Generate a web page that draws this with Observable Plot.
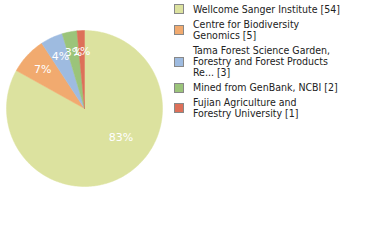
<!DOCTYPE html>
<html><head><meta charset="utf-8">
<script src="https://cdn.jsdelivr.net/npm/d3@7"></script>
<script src="https://cdn.jsdelivr.net/npm/@observablehq/plot@0.6"></script>
<style>
body{margin:0;background:#fff;}
#wrap{position:relative;width:380px;height:240px;overflow:hidden;}
#legend{position:absolute;left:174px;top:3.5px;font-family:"DejaVu Sans Condensed","DejaVu Sans",sans-serif;font-size:10.5px;color:#222;line-height:11.2px;}
.item{display:flex;align-items:center;margin-bottom:3.8px;}
.sw{width:8px;height:8px;border:1px solid #888;flex:none;margin-right:9px;}
</style></head>
<body><div id="wrap"><div id="chart"></div><div id="legend"></div></div>
<script>
const categories = ["Wellcome Sanger Institute","Centre for Biodiversity Genomics","Tama Forest Science Garden, Forestry and Forest Products Re...","Mined from GenBank, NCBI","Fujian Agriculture and Forestry University"];
const legendLines = [["Wellcome Sanger Institute [54]"],["Centre for Biodiversity","Genomics [5]"],["Tama Forest Science Garden,","Forestry and Forest Products","Re... [3]"],["Mined from GenBank, NCBI [2]"],["Fujian Agriculture and","Forestry University [1]"]];
const counts = [54,5,3,2,1];
const colors = ["#dce29f","#f1aa6f","#9ebbe0","#9bc47a","#dd7059"];

const total = d3.sum(counts);
const pie = d3.pie().sort(null).value(d=>d.count)(categories.map((c,i)=>({cat:c,count:counts[i]})));
const wedgePts = [];
pie.forEach((p,i)=>{
  const steps = Math.max(2, Math.ceil((p.endAngle-p.startAngle)/0.02));
  wedgePts.push({k:i,x:0,y:0});
  for(let s=0;s<=steps;s++){
    const a = p.startAngle + (p.endAngle-p.startAngle)*s/steps;
    wedgePts.push({k:i,x:Math.sin(a),y:Math.cos(a)});
  }
  wedgePts.push({k:i,x:0,y:0});
});
const labels = pie.map((p,i)=>{
  const big = (p.endAngle-p.startAngle) > Math.PI;
  const a = big ? p.startAngle + (p.endAngle-p.startAngle)*0.43 : (p.startAngle+p.endAngle)/2;
  const r = big ? 0.6 : 0.73;
  return {x:Math.sin(a)*r,y:Math.cos(a)*r,t:Math.floor(counts[i]/total*100)+"%"};
});

const chart = Plot.plot({
  width:380,height:240,
  marginLeft:6,marginRight:218,marginTop:30,marginBottom:54,
  x:{domain:[-1,1],axis:null},
  y:{domain:[-1,1],axis:null},
  marks:[
    Plot.line(wedgePts,{x:"x",y:"y",z:"k",fill:d=>colors[d.k],stroke:d=>colors[d.k],strokeWidth:0.5,curve:"linear"}),
    Plot.text(labels,{x:"x",y:"y",text:"t",fill:"white",fontSize:11,fontFamily:"DejaVu Sans",letterSpacing:1})
  ]
});
document.getElementById("chart").appendChild(chart);

const lg = document.getElementById("legend");
legendLines.forEach((lines,i)=>{
  const it=document.createElement("div");it.className="item";
  const sw=document.createElement("div");sw.className="sw";sw.style.background=colors[i];
  const tx=document.createElement("div");tx.innerHTML=lines.join("<br>");
  it.appendChild(sw);it.appendChild(tx);lg.appendChild(it);
});
</script></body></html>
